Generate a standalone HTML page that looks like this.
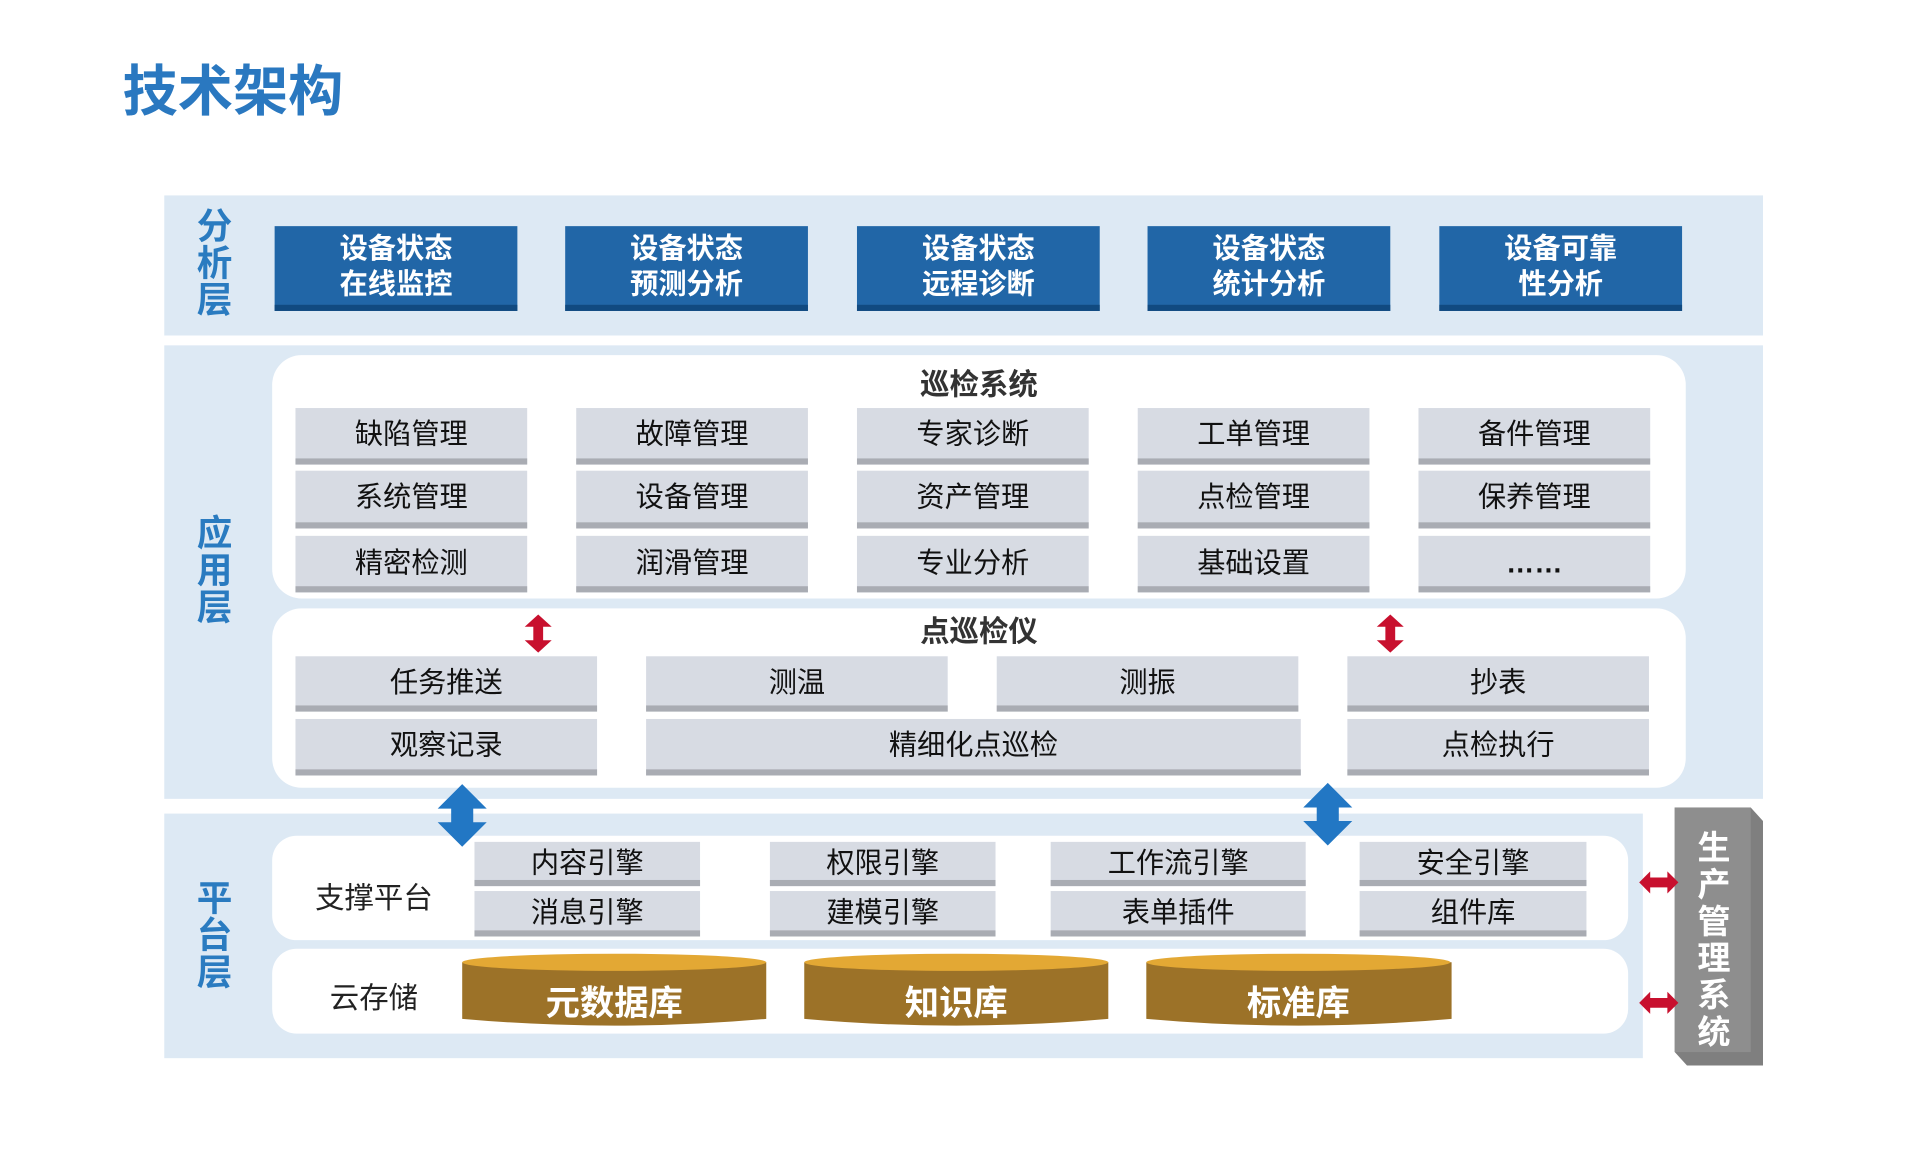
<!DOCTYPE html>
<html><head><meta charset="utf-8"><style>
*{margin:0;padding:0;box-sizing:border-box}
html,body{width:1920px;height:1166px;overflow:hidden;background:#fff}
#w{position:absolute;left:0;top:0;width:1566px;height:949px;transform:scale(1.226,1.229);transform-origin:0 0;font-family:"Liberation Sans","Noto Sans CJK SC",sans-serif}
.a{position:absolute}
.band{position:absolute;background:#dde9f4}
.lbl{position:absolute;color:#2a7bc0;font-weight:bold;font-size:29px;line-height:30px;width:34px;text-align:center}
.bb{position:absolute;width:198px;height:69px;background:#2166a7;border-bottom:5px solid #114a80;color:#fff;font-weight:bold;font-size:23px;line-height:29px;text-align:center;padding-top:4px}
.wb{position:absolute;background:#fff;border-radius:24px}
.g{position:absolute;background:#d7dbe3;border-bottom:5px solid #a9acb3;color:#111;font-size:23px;text-align:center}
.t{position:absolute;font-size:24px;font-weight:bold;color:#333;text-align:center}
</style></head><body><div id="w">
<div class="a" style="left:100px;top:38px;font-size:45px;font-weight:bold;color:#2a78c0">技术架构</div>

<div class="band" style="left:134px;top:159px;width:1304px;height:114px"></div>
<div class="lbl" style="left:158px;top:170px">分<br>析<br>层</div>
<div class="bb" style="left:224px;top:184px">设备状态<br>在线监控</div>
<div class="bb" style="left:461px;top:184px">设备状态<br>预测分析</div>
<div class="bb" style="left:699px;top:184px">设备状态<br>远程诊断</div>
<div class="bb" style="left:936px;top:184px">设备状态<br>统计分析</div>
<div class="bb" style="left:1174px;top:184px">设备可靠<br>性分析</div>

<div class="band" style="left:134px;top:281px;width:1304px;height:369px"></div>
<div class="lbl" style="left:158px;top:420px">应<br>用<br>层</div>
<div class="wb" style="left:222px;top:289px;width:1153px;height:198px"></div>
<div class="t" style="left:222px;top:293px;width:1153px">巡检系统</div>

<div class="g" style="left:241px;top:332px;width:189px;height:46px;line-height:43px">缺陷管理</div>
<div class="g" style="left:470px;top:332px;width:189px;height:46px;line-height:43px">故障管理</div>
<div class="g" style="left:699px;top:332px;width:189px;height:46px;line-height:43px">专家诊断</div>
<div class="g" style="left:928px;top:332px;width:189px;height:46px;line-height:43px">工单管理</div>
<div class="g" style="left:1157px;top:332px;width:189px;height:46px;line-height:43px">备件管理</div>
<div class="g" style="left:241px;top:383px;width:189px;height:47px;line-height:43px">系统管理</div>
<div class="g" style="left:470px;top:383px;width:189px;height:47px;line-height:43px">设备管理</div>
<div class="g" style="left:699px;top:383px;width:189px;height:47px;line-height:43px">资产管理</div>
<div class="g" style="left:928px;top:383px;width:189px;height:47px;line-height:43px">点检管理</div>
<div class="g" style="left:1157px;top:383px;width:189px;height:47px;line-height:43px">保养管理</div>
<div class="g" style="left:241px;top:436px;width:189px;height:46px;line-height:45px">精密检测</div>
<div class="g" style="left:470px;top:436px;width:189px;height:46px;line-height:45px">润滑管理</div>
<div class="g" style="left:699px;top:436px;width:189px;height:46px;line-height:45px">专业分析</div>
<div class="g" style="left:928px;top:436px;width:189px;height:46px;line-height:45px">基础设置</div>
<div class="g" style="left:1157px;top:436px;width:189px;height:46px;line-height:45px;font-weight:bold">……</div>

<div class="wb" style="left:222px;top:495px;width:1153px;height:146px"></div>
<div class="t" style="left:222px;top:494px;width:1153px">点巡检仪</div>
<div class="g" style="left:241px;top:534px;width:246px;height:45px;line-height:42px">任务推送</div>
<div class="g" style="left:527px;top:534px;width:246px;height:45px;line-height:42px">测温</div>
<div class="g" style="left:813px;top:534px;width:246px;height:45px;line-height:42px">测振</div>
<div class="g" style="left:1099px;top:534px;width:246px;height:45px;line-height:42px">抄表</div>
<div class="g" style="left:241px;top:585px;width:246px;height:46px;line-height:42px">观察记录</div>
<div class="g" style="left:527px;top:585px;width:534px;height:46px;line-height:42px">精细化点巡检</div>
<div class="g" style="left:1099px;top:585px;width:246px;height:46px;line-height:42px">点检执行</div>

<div class="band" style="left:134px;top:662px;width:1206px;height:199px"></div>
<div class="lbl" style="left:158px;top:717px">平<br>台<br>层</div>
<div class="wb" style="left:222px;top:680px;width:1106px;height:85px;border-radius:20px"></div>
<div class="t" style="left:242px;top:711px;width:126px;font-weight:normal;color:#222">支撑平台</div>
<div class="g" style="left:387px;top:685px;width:184px;height:36px;line-height:34px">内容引擎</div>
<div class="g" style="left:628px;top:685px;width:184px;height:36px;line-height:34px">权限引擎</div>
<div class="g" style="left:857px;top:685px;width:208px;height:36px;line-height:34px">工作流引擎</div>
<div class="g" style="left:1109px;top:685px;width:185px;height:36px;line-height:34px">安全引擎</div>
<div class="g" style="left:387px;top:725px;width:184px;height:37px;line-height:34px">消息引擎</div>
<div class="g" style="left:628px;top:725px;width:184px;height:37px;line-height:34px">建模引擎</div>
<div class="g" style="left:857px;top:725px;width:208px;height:37px;line-height:34px">表单插件</div>
<div class="g" style="left:1109px;top:725px;width:185px;height:37px;line-height:34px">组件库</div>

<div class="wb" style="left:222px;top:772px;width:1106px;height:69px;border-radius:20px"></div>
<div class="t" style="left:245px;top:792px;width:120px;font-weight:normal;color:#222">云存储</div>

<svg class="a" style="left:0;top:0" width="1566" height="949">
<g>
<path d="M377,783 L377,829 Q501,840 625,829 L625,783 Z" fill="#9c7228"/>
<ellipse cx="501" cy="783" rx="124" ry="7" fill="#e3a834"/>
<path d="M656,783 L656,829 Q780,840 904,829 L904,783 Z" fill="#9c7228"/>
<ellipse cx="780" cy="783" rx="124" ry="7" fill="#e3a834"/>
<path d="M935,783 L935,829 Q1059,840 1184,829 L1184,783 Z" fill="#9c7228"/>
<ellipse cx="1059" cy="783" rx="124" ry="7" fill="#e3a834"/>
</g>
<text x="501" y="826" font-size="28" font-weight="bold" fill="#fff" text-anchor="middle" font-family="Liberation Sans,Noto Sans CJK SC,sans-serif">元数据库</text>
<text x="780" y="826" font-size="28" font-weight="bold" fill="#fff" text-anchor="middle" font-family="Liberation Sans,Noto Sans CJK SC,sans-serif">知识库</text>
<text x="1059" y="826" font-size="28" font-weight="bold" fill="#fff" text-anchor="middle" font-family="Liberation Sans,Noto Sans CJK SC,sans-serif">标准库</text>
<g fill="#2277c4">
<polygon points="377,638 397,658 386,658 386,669 397,669 377,689 357,669 368,669 368,658 357,658"/>
<polygon points="1083,637 1103,657 1092,657 1092,668 1103,668 1083,688 1063,668 1074,668 1074,657 1063,657"/>
</g>
<polygon points="1366,657 1428,657 1438,668 1438,867 1376,867 1366,856" fill="#7f7f7f"/>
<rect x="1366" y="657" width="62" height="199" fill="#8e8e8e"/>
<g fill="#c8102e">
<polygon points="439,500 450,510 443,510 443,521 450,521 439,531 428,521 435,521 435,510 428,510"/>
<polygon points="1134,500 1145,510 1138,510 1138,521 1145,521 1134,531 1123,521 1130,521 1130,510 1123,510"/>
<polygon points="1337,718 1346,709 1346,714 1360,714 1360,709 1369,718 1360,727 1360,722 1346,722 1346,727"/>
<polygon points="1337,816 1346,807 1346,812 1360,812 1360,807 1369,816 1360,825 1360,820 1346,820 1346,825"/>
</g>
</svg>
<div class="a" style="left:1380px;top:675px;width:36px;color:#fff;font-size:27px;line-height:30px;font-weight:bold;text-align:center">生<br>产<br>管<br>理<br>系<br>统</div>
</div></body></html>
